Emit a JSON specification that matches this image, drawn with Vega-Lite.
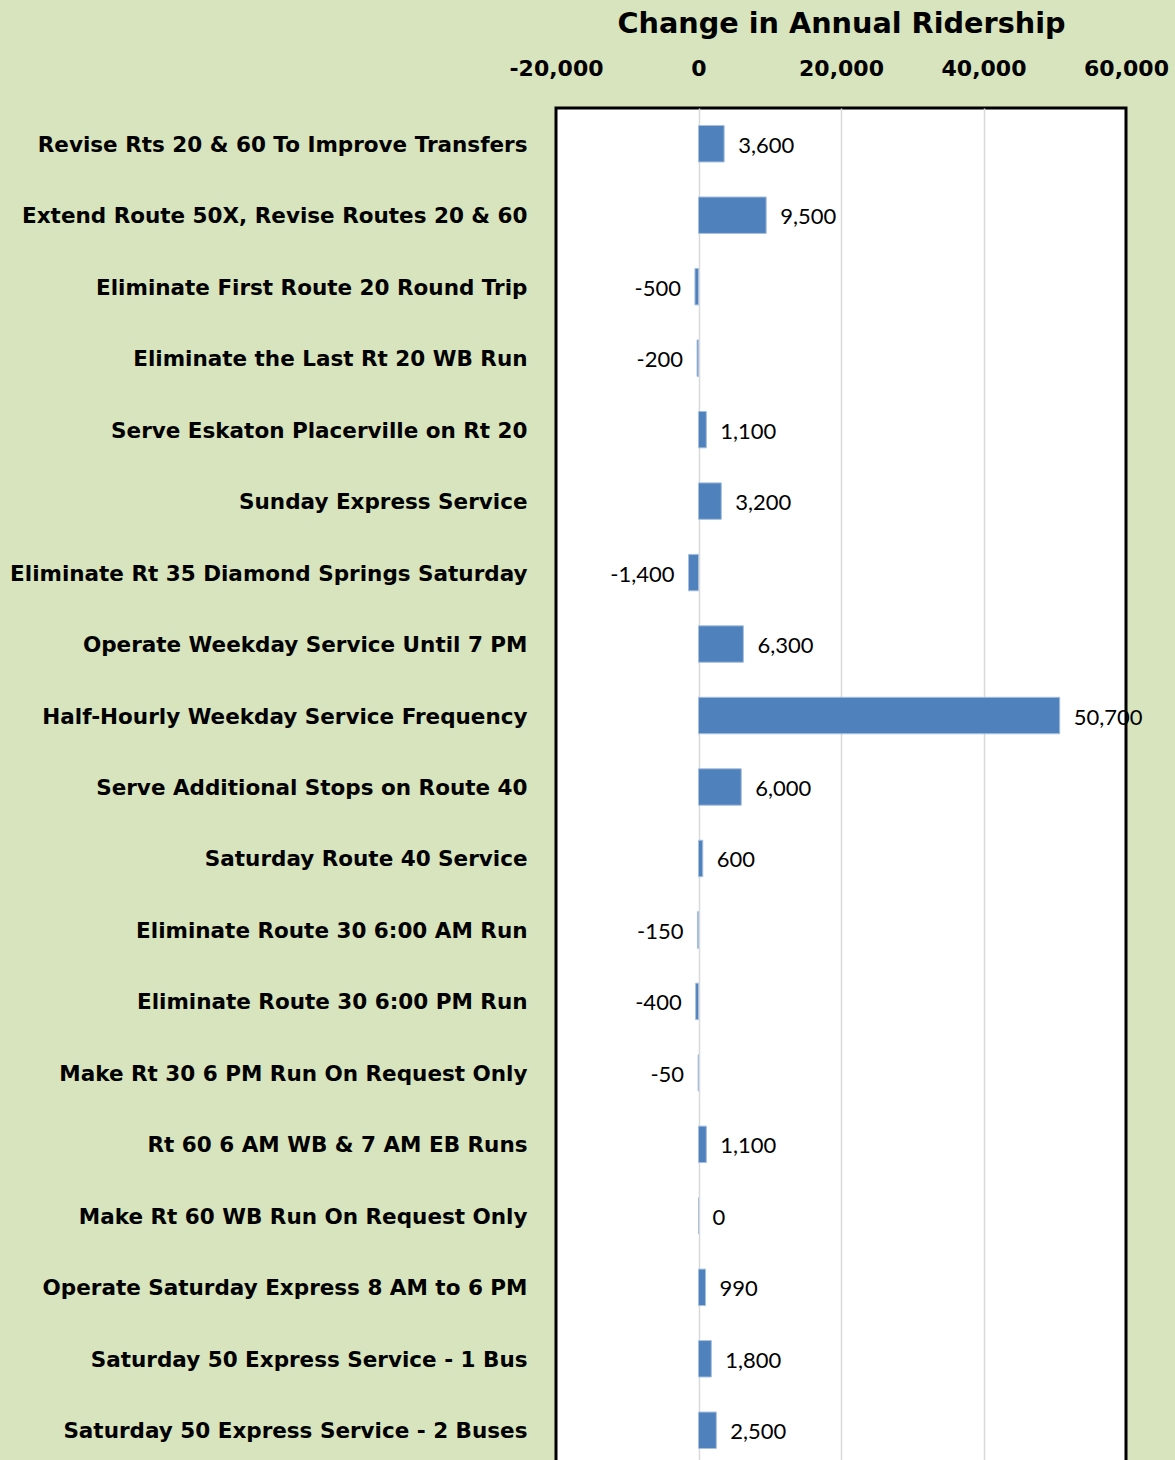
{
  "$schema": "https://vega.github.io/schema/vega-lite/v6.json",
  "autosize": "none",
  "width": 570,
  "height": 1358,
  "padding": {"left": 556, "top": 108, "right": 49, "bottom": 0},
  "background": "#D7E4BD",
  "config": {
    "view": {"fill": "white", "stroke": "black", "strokeWidth": 3},
    "font": "Lato",
    "locale": {
      "number": {"decimal": ".", "thousands": ",", "grouping": [3], "currency": ["$", ""], "minus": "-"}
    }
  },
  "data": {
    "values": [
      {"project": "Revise Rts 20 & 60 To Improve Transfers", "change": 3600},
      {"project": "Extend Route 50X, Revise Routes 20 & 60", "change": 9500},
      {"project": "Eliminate First Route 20 Round Trip", "change": -500},
      {"project": "Eliminate the Last Rt 20 WB Run", "change": -200},
      {"project": "Serve Eskaton Placerville on Rt 20", "change": 1100},
      {"project": "Sunday Express Service", "change": 3200},
      {"project": "Eliminate Rt 35 Diamond Springs Saturday", "change": -1400},
      {"project": "Operate Weekday Service Until 7 PM", "change": 6300},
      {"project": "Half-Hourly Weekday Service Frequency", "change": 50700},
      {"project": "Serve Additional Stops on Route 40", "change": 6000},
      {"project": "Saturday Route 40 Service", "change": 600},
      {"project": "Eliminate Route 30 6:00 AM Run", "change": -150},
      {"project": "Eliminate Route 30 6:00 PM Run", "change": -400},
      {"project": "Make Rt 30 6 PM Run On Request Only", "change": -50},
      {"project": "Rt 60 6 AM WB & 7 AM EB Runs", "change": 1100},
      {"project": "Make Rt 60 WB Run On Request Only", "change": 0},
      {"project": "Operate Saturday Express 8 AM to 6 PM", "change": 990},
      {"project": "Saturday 50 Express Service - 1 Bus", "change": 1800},
      {"project": "Saturday 50 Express Service - 2 Buses", "change": 2500}
    ]
  },
  "encoding": {
    "y": {
      "field": "project",
      "type": "nominal",
      "sort": null,
      "scale": {"paddingInner": 0.49, "paddingOuter": 0.245},
      "axis": {
        "title": null,
        "ticks": false,
        "domain": false,
        "labelFont": "DejaVu Sans",
        "labelFontWeight": "bold",
        "labelFontSize": 21.5,
        "labelColor": "black",
        "labelPadding": 29,
        "labelOffset": 2,
        "labelLimit": 600
      }
    },
    "x": {
      "field": "change",
      "type": "quantitative",
      "scale": {"domain": [-20000, 60000], "nice": false},
      "axis": {
        "orient": "top",
        "values": [-20000, 0, 20000, 40000, 60000],
        "format": ",d",
        "ticks": false,
        "domain": false,
        "grid": true,
        "gridColor": "#D9D9D9",
        "gridWidth": 1.5,
        "gridOpacity": {"condition": {"test": "datum.value < -10000 || datum.value > 50000", "value": 0}, "value": 1},
        "labelFont": "DejaVu Sans",
        "labelFontWeight": "bold",
        "labelFontSize": 22,
        "labelColor": "black",
        "labelPadding": 28,
        "labelFlush": false,
        "title": "Change in Annual Ridership",
        "titleFont": "DejaVu Sans",
        "titleFontWeight": "bold",
        "titleFontSize": 28.7,
        "titleColor": "black",
        "titlePadding": 19
      }
    }
  },
  "layer": [
    {
      "mark": {"type": "bar", "color": "#4F81BD", "stroke": "#A7C0DE", "strokeWidth": 1}
    },
    {
      "transform": [{"filter": "datum.change >= 0"}],
      "mark": {"type": "text", "align": "left", "baseline": "middle", "dx": 14, "dy": 2, "fontSize": 22, "font": "Lato", "color": "black"},
      "encoding": {"text": {"field": "change", "type": "quantitative", "format": ",d"}}
    },
    {
      "transform": [{"filter": "datum.change < 0"}],
      "mark": {"type": "text", "align": "right", "baseline": "middle", "dx": -14, "dy": 2, "fontSize": 22, "font": "Lato", "color": "black"},
      "encoding": {"text": {"field": "change", "type": "quantitative", "format": ",d"}}
    }
  ]
}
